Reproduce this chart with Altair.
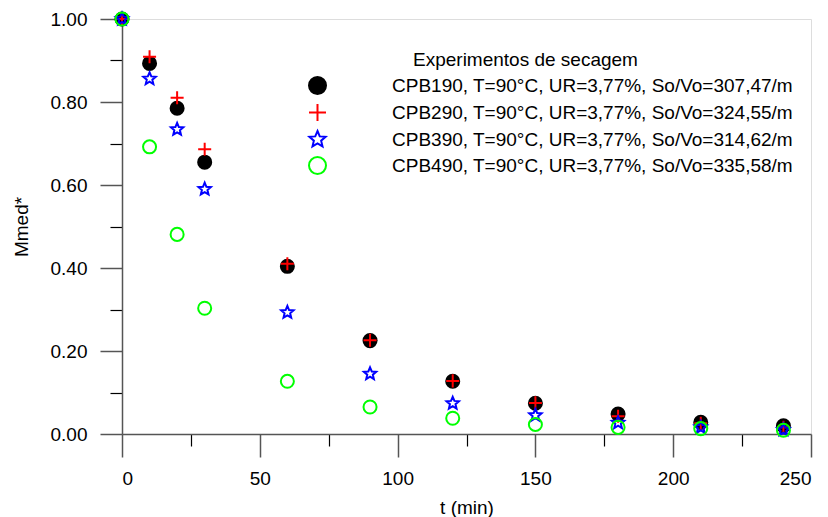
import altair as alt
import pandas as pd

t_min = [0, 10, 20, 30, 60, 90, 120, 150, 180, 210, 240]
cpb190 = [1.0, 0.893, 0.785, 0.655, 0.404, 0.225, 0.127, 0.074, 0.048, 0.028, 0.020]
cpb290 = [1.0, 0.909, 0.810, 0.686, 0.410, 0.226, 0.128, 0.075, 0.043, 0.026, 0.016]
cpb390 = [1.0, 0.856, 0.734, 0.590, 0.293, 0.145, 0.074, 0.045, 0.027, 0.016, 0.010]
cpb490 = [1.0, 0.692, 0.481, 0.303, 0.127, 0.065, 0.038, 0.023, 0.016, 0.013, 0.009]

series_names = [
    "CPB190, T=90°C, UR=3,77%, So/Vo=307,47/m",
    "CPB290, T=90°C, UR=3,77%, So/Vo=324,55/m",
    "CPB390, T=90°C, UR=3,77%, So/Vo=314,62/m",
    "CPB490, T=90°C, UR=3,77%, So/Vo=335,58/m",
]
series_values = [cpb190, cpb290, cpb390, cpb490]
legend_title = "Experimentos de secagem"

rows = []
for name, vals in zip(series_names, series_values):
    for t, v in zip(t_min, vals):
        rows.append({"t": t, "m": v, "serie": name})
df = pd.DataFrame(rows)

PLUS = "M-1,0H1M0,-1V1"
STAR = ("M0,-1L0.265,-0.364L0.951,-0.309L0.428,0.139L0.588,0.809L0,0.45"
        "L-0.588,0.809L-0.428,0.139L-0.951,-0.309L-0.265,-0.364Z")

stroke_colors = ["#000000", "#ff0000", "#0000ff", "#00ff00"]
fill_colors = ["#000000", "transparent", "transparent", "transparent"]
shapes = ["circle", PLUS, STAR, "circle"]

FONT = "Liberation Sans"
FS = 19
AXC = "#555555"

legend = alt.Legend(
    orient="none", legendX=186, legendY=57,
    title=None,
    labelFontSize=FS, labelFont=FONT, labelColor="black", labelLimit=600,
    symbolSize=289, symbolStrokeWidth=2, labelOffset=65, rowPadding=2, padding=0,
)

x_major = alt.Axis(values=[0, 50, 100, 150, 200, 250], tickSize=23, labelPadding=12,
                   labelFontSize=FS, labelFont=FONT, labelColor="black",
                   title="t (min)", titleFontSize=FS, titleFont=FONT,
                   titleFontWeight="normal", titleColor="black", titlePadding=10,
                   grid=False, domainColor=AXC, tickColor=AXC, domainWidth=1.5, tickWidth=1.5,
                   orient="bottom")
y_major = alt.Axis(values=[0, 0.2, 0.4, 0.6, 0.8, 1.0], format=".2f", tickSize=22,
                   labelPadding=13, labelFontSize=FS, labelFont=FONT, labelColor="black",
                   title="Mmed*", titleFontSize=FS, titleFont=FONT,
                   titleFontWeight="normal", titleColor="black", titlePadding=19,
                   grid=False, domainColor=AXC, tickColor=AXC, domainWidth=1.5, tickWidth=1.5,
                   orient="left")
x_minor = alt.Axis(values=[25, 75, 125, 175, 225], tickSize=12, labels=False, domain=False,
                   title=None, grid=False, tickColor="black", tickWidth=1.2, orient="bottom")
y_minor = alt.Axis(values=[0.1, 0.3, 0.5, 0.7, 0.9], tickSize=12, labels=False, domain=False,
                   title=None, grid=False, tickColor="black", tickWidth=1.2, orient="left")

xs = alt.Scale(domain=[0, 250], nice=False, zero=False)
ys = alt.Scale(domain=[0, 1], nice=False)

points = alt.Chart(df).mark_point(size=170, strokeWidth=2, opacity=1).encode(
    x=alt.X("t:Q", scale=xs, axis=x_major),
    y=alt.Y("m:Q", scale=ys, axis=y_major),
    stroke=alt.Stroke("serie:N", scale=alt.Scale(domain=series_names, range=stroke_colors), legend=legend),
    fill=alt.Fill("serie:N", scale=alt.Scale(domain=series_names, range=fill_colors), legend=legend),
    shape=alt.Shape("serie:N", scale=alt.Scale(domain=series_names, range=shapes), legend=legend),
)

minor = alt.Chart(df).mark_point(opacity=0, size=1).encode(
    x=alt.X("t:Q", scale=xs, axis=x_minor),
    y=alt.Y("m:Q", scale=ys, axis=y_minor),
)

chart = alt.layer(minor, points).resolve_axis(x="independent", y="independent").properties(
    width=689, height=415,
    autosize=alt.AutoSizeParams(type="none"),
    padding={"left": 122, "top": 19, "right": 17, "bottom": 83},
    title=alt.TitleParams(text=legend_title, anchor="start", frame="group", orient="top",
                          offset=0, dx=291, dy=77, baseline="alphabetic", fontSize=FS,
                          font=FONT, fontWeight="normal", color="black"),
).configure_view(stroke=AXC, strokeWidth=1.5).configure(background="white")

chart.save("out.html", embed_options={"renderer": "svg", "actions": False})
